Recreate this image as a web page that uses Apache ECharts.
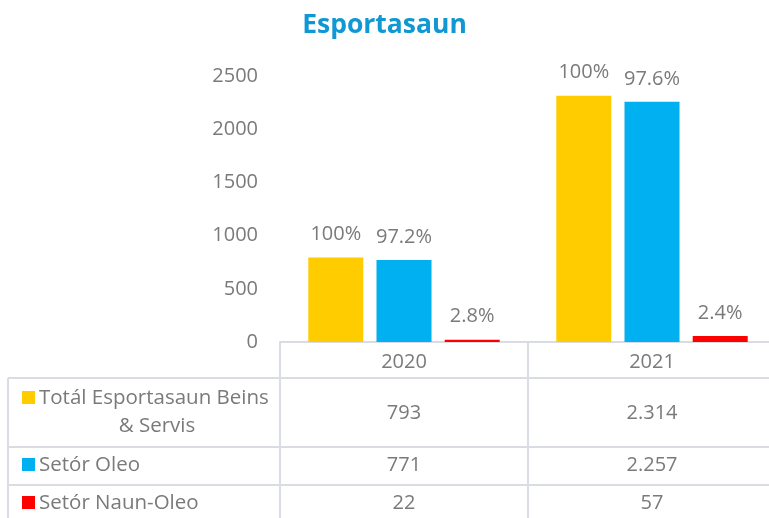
<!DOCTYPE html>
<html style="height: 100%">
<head>
    <meta charset="utf-8">
    <title>Esportasaun</title>
    <script src="https://cdn.jsdelivr.net/npm/echarts@6/dist/echarts.min.js"></script>
</head>
<body style="margin: 0; height: 100%; background: #fff">
    <div id="main" style="width: 769px; height: 518px"></div>
    <script>
        const years = ['2020', '2021'];
        const seriesNames = ['Totál Esportasaun Beins & Servis', 'Setór Oleo', 'Setór Naun-Oleo'];
        const totalValues = [793, 2314];
        const oleoValues = [771, 2257];
        const naunOleoValues = [22, 57];
        const totalPct = ['100%', '100%'];
        const oleoPct = ['97.2%', '97.6%'];
        const naunOleoPct = ['2.8%', '2.4%'];
        const yTicks = [0, 500, 1000, 1500, 2000, 2500];

        const colors = ['#ffcc00', '#00b0f0', '#ff0000'];
        const textColor = '#7a7a7a';
        const lineColor = '#d9dde3';
        const font = '"Open Sans", "Noto Sans", sans-serif';

        const chart = echarts.init(document.getElementById('main'));

        // talin ho pontu hanesan 2.314
        function fmt(n) {
            return String(n).replace(/\B(?=(\d{3})+(?!\d))/g, '.');
        }

        const values = [totalValues, oleoValues, naunOleoValues];
        const pcts = [totalPct, oleoPct, naunOleoPct];
        const rowOffsets = [71, 123, 161];

        const tableAxes = values.map((vals, k) => ({
            type: 'category',
            data: years,
            position: 'bottom',
            offset: rowOffsets[k],
            axisLine: { show: false },
            axisTick: { show: false },
            axisLabel: {
                margin: 0,
                verticalAlign: 'middle',
                fontSize: 20,
                fontFamily: font,
                color: textColor,
                formatter: (v, i) => fmt(vals[i])
            }
        }));

        const series = values.map((vals, k) => ({
            name: seriesNames[k],
            type: 'bar',
            xAxisIndex: 0,
            barWidth: 55,
            barGap: '24%',
            itemStyle: { color: colors[k] },
            label: {
                show: true,
                position: 'top',
                distance: 13,
                fontSize: 20,
                fontFamily: font,
                color: textColor,
                formatter: p => pcts[k][p.dataIndex]
            },
            data: vals
        }));

        // tabela nia liña no legenda iha kolun karuk
        const graphics = [];
        [378, 447, 485].forEach(y => {
            graphics.push({ type: 'line', shape: { x1: 8, y1: y, x2: 769, y2: y }, style: { stroke: lineColor, lineWidth: 2 } });
        });
        graphics.push({ type: 'line', shape: { x1: 8, y1: 378, x2: 8, y2: 518 }, style: { stroke: lineColor, lineWidth: 2 } });
        const keyY = [398, 465, 503];
        keyY.forEach((y, k) => {
            graphics.push({ type: 'rect', shape: { x: 22, y: y - 7, width: 13, height: 13 }, style: { fill: colors[k] } });
        });
        const rowText = [
            { text: 'Totál Esportasaun Beins', x: 39, y: 398, align: 'left' },
            { text: '& Servis', x: 157, y: 426, align: 'center' },
            { text: seriesNames[1], x: 39, y: 465, align: 'left' },
            { text: seriesNames[2], x: 39, y: 503, align: 'left' }
        ];
        rowText.forEach(t => {
            graphics.push({
                type: 'text', x: t.x, y: t.y,
                style: { text: t.text, fill: textColor, fontSize: 20.5, fontFamily: font, align: t.align, verticalAlign: 'middle' }
            });
        });

        chart.setOption({
            animation: false,
            title: {
                text: 'Esportasaun',
                left: 'center',
                top: 7,
                textStyle: { color: '#1098d4', fontSize: 26.5, fontWeight: 'bold', fontFamily: font }
            },
            grid: { left: 280, width: 496, top: 76, bottom: 176, outerBoundsMode: 'none', containLabel: false },
            xAxis: [{
                type: 'category',
                data: years,
                axisLine: { lineStyle: { color: lineColor, width: 2 } },
                axisTick: { show: true, length: 176, lineStyle: { color: lineColor, width: 2 } },
                axisLabel: { margin: 20, verticalAlign: 'middle', fontSize: 20, fontFamily: font, color: textColor }
            }].concat(tableAxes),
            yAxis: {
                type: 'value',
                min: yTicks[0],
                max: yTicks[yTicks.length - 1],
                interval: 500,
                splitLine: { show: false },
                axisLine: { show: false },
                axisTick: { show: false },
                axisLabel: { margin: 22, fontSize: 20, fontFamily: font, color: textColor, formatter: v => String(v) }
            },
            graphic: graphics,
            series: series
        });
    </script>
</body>
</html>
